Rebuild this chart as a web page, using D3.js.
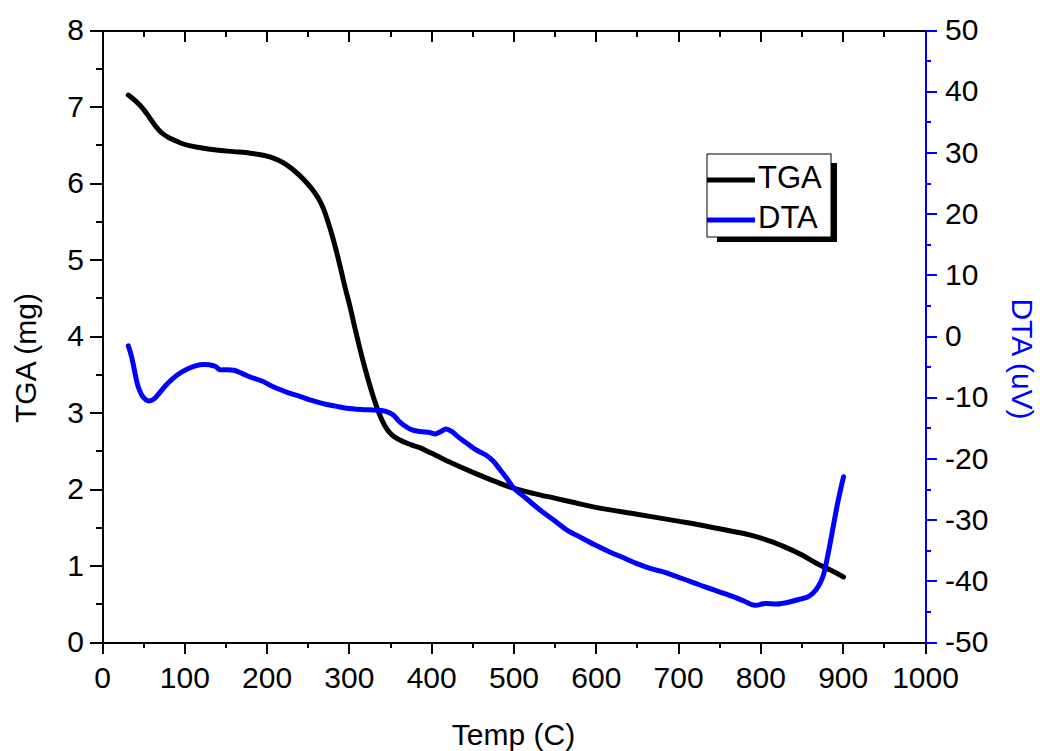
<!DOCTYPE html>
<html>
<head>
<meta charset="utf-8">
<script src="https://d3js.org/d3.v7.min.js"></script>
<style>
body { margin: 0; background: #fff; }
text { font-family: "Liberation Sans", Arial, sans-serif; }
.axis text { font-size: 30px; fill: #000; }
.axis path, .axis line { stroke-width: 2; shape-rendering: crispEdges; }
</style>
</head>
<body>
<div id="chart"></div>
<script>
// TGA / DTA curves
var tgaTemp = [32,40,50,60,66,72,80,90,99,120,139,160,180,204,224,240,249,258,265,270,275,280,285,290,295,301,307,313,319,325,331,337,343,350,362,375,386,400,425,450,475,500,525,550,575,600,650,700,727,750,787,800,828,850,868,885,901];
var tgaMass = [7.15,7.08,6.97,6.82,6.73,6.66,6.60,6.55,6.51,6.46,6.43,6.41,6.39,6.34,6.24,6.10,6.00,5.88,5.76,5.64,5.48,5.30,5.10,4.88,4.65,4.40,4.12,3.85,3.60,3.37,3.16,2.98,2.84,2.73,2.64,2.58,2.54,2.47,2.34,2.22,2.11,2.01,1.94,1.88,1.82,1.76,1.67,1.58,1.53,1.48,1.40,1.36,1.25,1.14,1.03,0.94,0.85];

var dtaTemp = [32,36,40,44,50,56,62,68,78,91,105,119,130,138,143,150,160,170,180,195,208,225,241,257,273,285,297,315,334,345,354,360,366,376,386,399,405,412,418,425,432,442,452,460,466,475,484,492,500,516,532,550,566,583,600,617,633,650,667,683,700,717,733,750,767,780,793,806,820,834,848,858,864,870,876,882,888,894,901];
var dtaSignal = [-1.6,-3.4,-6.0,-8.3,-10.0,-10.6,-10.4,-9.6,-8.0,-6.4,-5.3,-4.7,-4.7,-5.0,-5.5,-5.5,-5.6,-6.1,-6.7,-7.4,-8.3,-9.2,-9.9,-10.6,-11.2,-11.5,-11.8,-12.0,-12.1,-12.3,-12.9,-13.8,-14.5,-15.3,-15.6,-15.8,-16.0,-15.6,-15.2,-15.6,-16.4,-17.4,-18.4,-19.0,-19.4,-20.4,-21.9,-23.3,-24.8,-26.6,-28.4,-30.2,-31.8,-33.0,-34.2,-35.3,-36.2,-37.2,-38.0,-38.6,-39.4,-40.2,-41.0,-41.8,-42.6,-43.3,-44.0,-43.7,-43.8,-43.5,-43.0,-42.6,-42.0,-41.0,-39.3,-35.8,-31.5,-27.2,-23.0];

var xTicks = [0,100,200,300,400,500,600,700,800,900,1000];
var tgaTicks = [0,1,2,3,4,5,6,7,8];
var dtaTicks = [-50,-40,-30,-20,-10,0,10,20,30,40,50];

var seriesNames = ["TGA", "DTA"];
var blue = "#0000ff";

var W = 1040, H = 751;
var margin = {top: 30, right: 115, bottom: 109, left: 102},
    width = W - margin.left - margin.right,
    height = H - margin.top - margin.bottom;

var svg = d3.select("#chart").append("svg")
    .attr("width", W)
    .attr("height", H);

var g = svg.append("g")
    .attr("transform", "translate(" + margin.left + "," + margin.top + ")");

var x = d3.scaleLinear().domain([0, 1000]).range([0, width]);
var yL = d3.scaleLinear().domain([0, 8]).range([height, 0]);
var yR = d3.scaleLinear().domain([-50, 50]).range([height, 0]);

var mid = function(t) {
  var out = [];
  for (var i = 0; i < t.length - 1; i++) out.push((t[i] + t[i + 1]) / 2);
  return out;
};
var fmt = function(d) { return d < 0 ? "-" + Math.abs(d) : String(d); };

// minor ticks
g.append("g").attr("class", "axis")
    .attr("transform", "translate(0," + height + ")")
    .call(d3.axisBottom(x).tickValues(mid(xTicks)).tickSize(6).tickFormat(""));
g.append("g").attr("class", "axis")
    .call(d3.axisTop(x).tickValues(mid(xTicks)).tickSize(-7).tickFormat(""));
g.append("g").attr("class", "axis")
    .call(d3.axisLeft(yL).tickValues(mid(tgaTicks)).tickSize(6).tickFormat(""));
g.append("g").attr("class", "axis")
    .attr("transform", "translate(" + width + ",0)")
    .call(d3.axisRight(yR).tickValues(mid(dtaTicks)).tickSize(6).tickFormat(""))
    .selectAll("path, line").attr("stroke", blue);

// major ticks
g.append("g").attr("class", "axis")
    .call(d3.axisTop(x).tickValues(xTicks).tickSize(-12).tickSizeOuter(0).tickFormat(""));
g.append("g").attr("class", "axis")
    .attr("transform", "translate(0," + height + ")")
    .call(d3.axisBottom(x).tickValues(xTicks).tickSize(12).tickSizeOuter(0).tickPadding(13).tickFormat(fmt));
g.append("g").attr("class", "axis")
    .call(d3.axisLeft(yL).tickValues(tgaTicks).tickSize(12).tickSizeOuter(0).tickPadding(6).tickFormat(fmt));
var right = g.append("g").attr("class", "axis")
    .attr("transform", "translate(" + width + ",0)")
    .call(d3.axisRight(yR).tickValues(dtaTicks).tickSize(12).tickSizeOuter(0).tickPadding(8).tickFormat(fmt));
right.selectAll("path, line").attr("stroke", blue);

// curves
var tgaLine = d3.line()
    .x(function(d, i) { return x(tgaTemp[i]); })
    .y(function(d) { return yL(d); })
    .curve(d3.curveMonotoneX);
var dtaLine = d3.line()
    .x(function(d, i) { return x(dtaTemp[i]); })
    .y(function(d) { return yR(d); })
    .curve(d3.curveCatmullRom);

g.append("path").datum(tgaMass)
    .attr("d", tgaLine)
    .attr("fill", "none").attr("stroke", "#000")
    .attr("stroke-width", 5).attr("stroke-linecap", "round").attr("stroke-linejoin", "round");
g.append("path").datum(dtaSignal)
    .attr("d", dtaLine)
    .attr("fill", "none").attr("stroke", blue)
    .attr("stroke-width", 5).attr("stroke-linecap", "round").attr("stroke-linejoin", "round");

// axis titles
svg.append("text")
    .attr("x", margin.left + width / 2).attr("y", 745)
    .attr("text-anchor", "middle").style("font-size", "30px")
    .text("Temp (C)");
svg.append("text")
    .attr("transform", "translate(36,358) rotate(-90)")
    .attr("text-anchor", "middle").style("font-size", "30px")
    .text("TGA (mg)");
svg.append("text")
    .attr("transform", "translate(1012,359) rotate(90)")
    .attr("text-anchor", "middle").style("font-size", "30px")
    .attr("fill", blue)
    .text("DTA (uV)");

// legend
var lg = svg.append("g").attr("transform", "translate(707,154)");
lg.append("rect").attr("x", 10).attr("y", 9).attr("width", 120).attr("height", 79).attr("fill", "#000");
lg.append("rect").attr("x", 0).attr("y", 0).attr("width", 124).attr("height", 83)
    .attr("fill", "#fff").attr("stroke", "#000").attr("stroke-width", 1);
var colors = ["#000", blue];
seriesNames.forEach(function(name, i) {
  var yy = 26 + i * 40;
  lg.append("line").attr("x1", 0).attr("x2", 48).attr("y1", yy).attr("y2", yy)
      .attr("stroke", colors[i]).attr("stroke-width", 5);
  lg.append("text").attr("x", 51).attr("y", yy + 8).style("font-size", "31px").text(name);
});
</script>
</body>
</html>
